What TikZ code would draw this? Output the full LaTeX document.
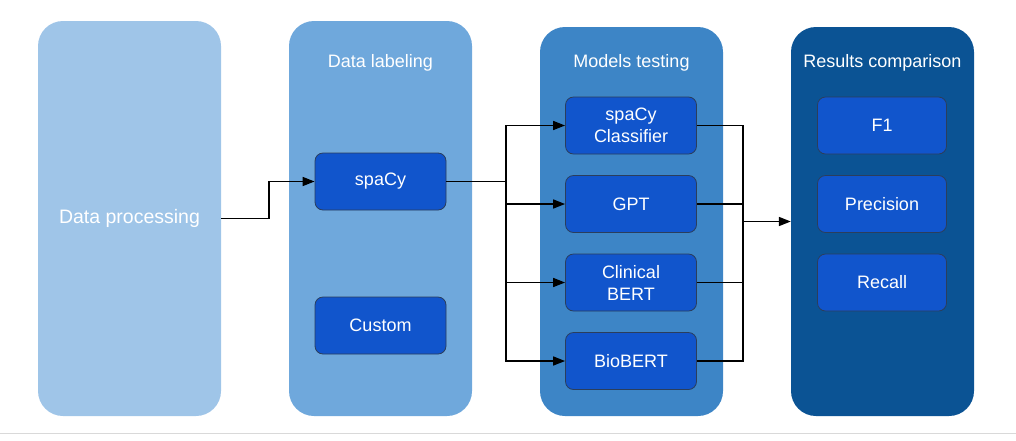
\documentclass[tikz,border=0pt]{standalone}
\usepackage{fontspec}
\setmainfont{Liberation Sans}
\usetikzlibrary{arrows.meta}
\definecolor{procblue}{HTML}{9FC5E8}
\definecolor{labelblue}{HTML}{6FA8DC}
\definecolor{testblue}{HTML}{3D85C6}
\definecolor{resblue}{HTML}{0B5394}
\definecolor{boxblue}{HTML}{1155CC}
\definecolor{boxline}{HTML}{2B3E5C}
\begin{document}
\begin{tikzpicture}[x=1pt,y=-1pt,
    col/.style={rounded corners=25pt, minimum width=183pt, inner sep=0pt, text=white,
      font=\fontsize{19.5}{23}\selectfont},
    title/.style={text=white, font=\fontsize{18}{22}\selectfont},
    box/.style={draw=boxline, fill=boxblue, line width=0.8pt, rounded corners=8pt,
      minimum width=131pt, minimum height=57pt, inner sep=0pt, align=center, text=white,
      font=\fontsize{18}{22}\selectfont},
    wire/.style={line width=1.6pt},
    arr/.style={wire, -{Triangle[length=12pt,width=9pt]}}]
  \useasboundingbox (0,0) rectangle (1016,440);
  \draw[black!15, line width=1pt] (0,433) -- (1016,433);

  \node[col, fill=procblue, minimum height=395pt] (proc) at (129.5,218.5) {Data processing};
  \node[col, fill=labelblue, minimum height=395pt] (label) at (380.5,218.5) {};
  \node[col, fill=testblue, minimum height=389pt] (test) at (631.5,221.5) {};
  \node[col, fill=resblue, minimum height=389pt] (res) at (882.5,221.5) {};

  \node[title] (labeltitle) at (380.5,63) {Data labeling};
  \node[title] (testtitle) at (631.5,63) {Models testing};
  \node[title] (restitle) at (882.5,63) {Results comparison};

  \node[box] (spacy) at (380.5,181.5) {spaCy};
  \node[box] (custom) at (380.5,325.5) {Custom};

  \node[box] (clf) at (631,125.5) {spaCy\\Classifier};
  \node[box] (gpt) at (631,204) {GPT};
  \node[box] (clin) at (631,282.5) {Clinical\\BERT};
  \node[box] (bio) at (631,361) {BioBERT};

  \node[box, minimum width=129pt] (f1) at (882,125.5) {F1};
  \node[box, minimum width=129pt] (prec) at (882,204) {Precision};
  \node[box, minimum width=129pt] (rec) at (882,282.5) {Recall};

  \coordinate (split) at (506,181.5);
  \coordinate (merge) at (743,221.5);

  \draw[arr] (proc.east) -- ++(48,0) |- (spacy.west);
  \draw[wire] (spacy.east) -- (split);
  \foreach \m in {clf,gpt,clin,bio} {
    \draw[arr] (split) |- (\m.west);
    \draw[wire] (\m.east) -| (merge);
  }
  \draw[arr] (merge) -- (res.west);
\end{tikzpicture}
\end{document}
